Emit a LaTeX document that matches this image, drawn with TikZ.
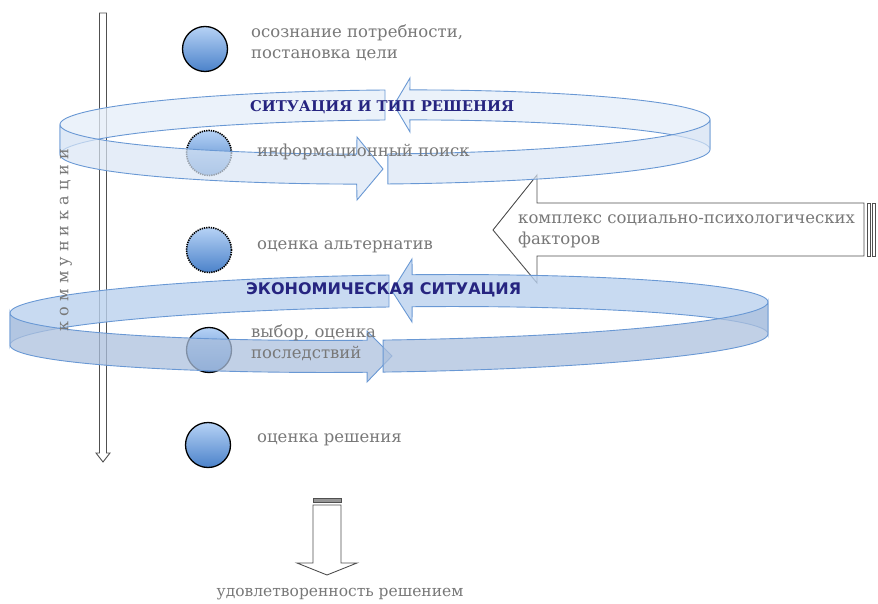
\documentclass[tikz,border=0pt]{standalone}
\usepackage{fontspec}
\setmainfont{DejaVu Serif}
\setsansfont{DejaVu Sans}
\newfontfamily\commfont[LetterSpace=32]{DejaVu Serif}

\definecolor{ringline}{RGB}{105,152,212}
\definecolor{ringbackA}{RGB}{228,237,248}
\definecolor{ringfrontA}{RGB}{218,230,245}
\definecolor{ringbackB}{RGB}{186,209,238}
\definecolor{ringfrontB}{RGB}{172,192,221}
\definecolor{txtgray}{RGB}{120,120,120}
\definecolor{navy}{RGB}{38,36,128}
\definecolor{balltop}{RGB}{182,210,245}
\definecolor{ballbot}{RGB}{75,130,202}
\definecolor{arrowgray}{RGB}{80,80,80}

% ring band between upper edge T and lower edge B, from angle #2 to #3
\newcommand\band[4][]{%
  \draw[#1] plot[domain=#2:#3,samples=45] ({\rcx+\rrx*cos(\x)},{\rcy+\rry*sin(\x)+\rk*cos(\x)}) #4
    -- plot[domain=#3:#2,samples=45] ({\rcx+\rrx*cos(\x)},{\rcy+\rh+\rry*sin(\x)+\rk*cos(\x)}) -- cycle;}

\begin{document}
\begin{tikzpicture}[x=1pt,y=-1pt,
    ball/.style={circle,minimum size=45pt,inner sep=0pt,top color=balltop,bottom color=ballbot,draw=black,line width=1.3pt},
    dotball/.style={ball,densely dotted,line width=1.6pt},
    blockarr/.style={draw=arrowgray,fill=white,line width=0.9pt,line join=miter},
    lbl/.style={anchor=west,inner sep=0pt,text=txtgray,align=left,font=\fontsize{16.5}{21}\selectfont},
    head/.style={anchor=west,inner sep=0pt,text=navy,font=\fontsize{14.8}{18}\selectfont\bfseries},
    backA/.style={draw=ringline,fill=ringbackA,fill opacity=0.75,line width=0.9pt},
    frontA/.style={draw=ringline,fill=ringfrontA,fill opacity=0.7,line width=0.9pt},
    backB/.style={draw=ringline,fill=ringbackB,fill opacity=0.8,line width=0.9pt},
    frontB/.style={draw=ringline,fill=ringfrontB,fill opacity=0.75,line width=0.9pt}]
  \useasboundingbox (0,0) rectangle (878,604);

  % vertical arrow and side arrows
  \draw[blockarr] (99.5,13) -- (106.5,13) -- (106.5,453) -- (110,453) -- (103,462)
    -- (96,453) -- (99.5,453) -- cycle;
  \draw[blockarr] (493,230) -- (537,175) -- (537,203) -- (864,203) -- (864,256)
    -- (537,256) -- (537,283) -- cycle;
  \draw[blockarr] (867,203) rectangle (870,256);
  \draw[blockarr] (872,203) rectangle (875,256);
  \draw[blockarr] (313,505) -- (341,505) -- (341,563) -- (357,563) -- (327,575)
    -- (297,563) -- (313,563) -- cycle;
  \draw[blockarr,fill=arrowgray!60] (313,498) rectangle (341,502);

  % upper ring, back side
  \def\rcx{385}\def\rcy{122}\def\rrx{325}\def\rry{32}\def\rk{-2.5}\def\rh{30}
  \band[backA]{180}{270}{}
  \band[backA]{360}{274.4}{-- (410,78) -- (394,105) -- (410,132)}
  % lower ring, back side
  \def\rcx{389}\def\rcy{307.5}\def\rrx{379}\def\rry{32.5}\def\rk{-5.5}\def\rh{32}
  \band[backB]{180}{270}{}
  \band[backB]{360}{273.5}{-- (412,259) -- (392,291) -- (412,322)}

  % stages
  \node[ball] (Circ1) at (205,49) {};
  \node[dotball] (Circ2) at (209,153) {};
  \node[dotball] (Circ3) at (209,250) {};
  \node[ball] (Circ4) at (209,350) {};
  \node[ball] (Circ5) at (208,445) {};

  % front sides
  \def\rcx{385}\def\rcy{122}\def\rrx{325}\def\rry{32}\def\rk{-2.5}\def\rh{30}
  \band[frontA]{180}{95}{-- (357,137) -- (383,169) -- (357,200)}
  \band[frontA]{0}{89.5}{}
  \def\rcx{389}\def\rcy{307.5}\def\rrx{379}\def\rry{32.5}\def\rk{-5.5}\def\rh{32}
  \band[frontB]{180}{93.3}{-- (367,331) -- (392,356) -- (367,382)}
  \band[frontB]{0}{90.9}{}

  % texts
  \node[lbl] (lab1) at (251,42.5) {осознание потребности,\\постановка цели};
  \node[lbl] (lab2) at (257,152) {информационный поиск};
  \node[lbl] (lab3) at (257,247) {оценка альтернатив};
  \node[lbl] (lab4) at (251,342.5) {выбор, оценка\\последствий};
  \node[lbl] (lab5) at (257,440) {оценка решения};
  \node[lbl] (lab6) at (518,231) {комплекс социально-психологических\\факторов};
  \node[lbl,anchor=center,font=\fontsize{15.5}{19}\selectfont] (lab7) at (340,594) {удовлетворенность решением};
  \node[head] (sit1) at (250,107) {СИТУАЦИЯ И ТИП РЕШЕНИЯ};
  \node[head,font=\fontsize{16}{18}\selectfont\sffamily\bfseries] (sit2) at (246,290) {ЭКОНОМИЧЕСКАЯ СИТУАЦИЯ};
  \node[rotate=90,inner sep=0pt,text=txtgray,font=\fontsize{16}{18}\commfont] (comm) at (66,240) {коммуникации};
\end{tikzpicture}
\end{document}
